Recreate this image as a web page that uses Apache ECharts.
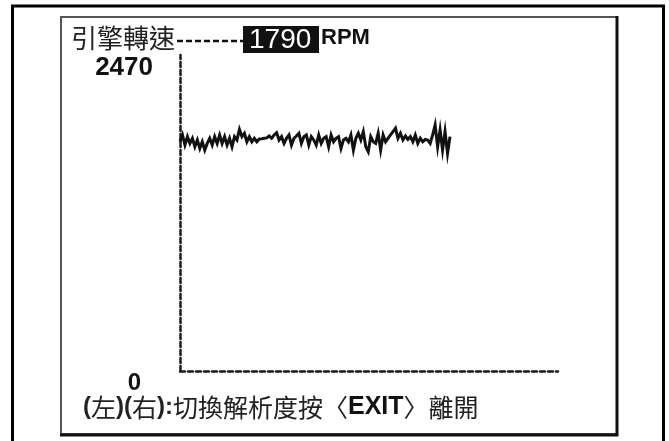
<!DOCTYPE html>
<html>
<head>
<meta charset="utf-8">
<title>引擎轉速</title>
<script src="https://cdn.jsdelivr.net/npm/echarts@6.0.0/dist/echarts.min.js"></script>
<style>
  html, body { margin: 0; padding: 0; background: #fff; }
  #chart { width: 669px; height: 441px; }
</style>
</head>
<body>
<div id="chart"></div>
<script>
// data
const yMin = 0
const yMax = 2470
const currentRpm = 1790
const yTickLabels = [0, 2470]
const rpmSamples = [
  1792, 1845, 1766, 1832, 1779, 1819, 1753, 1806, 1740, 1792,
  1727, 1779, 1819, 1766, 1832, 1779, 1845, 1779, 1832, 1766,
  1819, 1753, 1832, 1806, 1889, 1832, 1858, 1792, 1832, 1792,
  1819, 1792, 1814, 1816, 1819, 1822, 1837, 1819, 1845, 1863,
  1806, 1832, 1779, 1819, 1845, 1766, 1819, 1837, 1858, 1779,
  1832, 1845, 1766, 1832, 1806, 1766, 1845, 1779, 1819, 1832,
  1753, 1845, 1792, 1819, 1832, 1740, 1806, 1819, 1792, 1845,
  1727, 1819, 1858, 1806, 1871, 1753, 1714, 1832, 1792, 1779,
  1858, 1727, 1845, 1792, 1819, 1845, 1871, 1897, 1819, 1858,
  1806, 1837, 1811, 1832, 1792, 1845, 1779, 1819, 1792, 1811,
  1806, 1779, 1845, 1923, 1753, 1884, 1727, 1871, 1701, 1832
]
const headerLabel = '引擎轉速'
const unitLabel = 'RPM'

const cjk = '"Noto Sans CJK TC", "Noto Sans CJK SC", sans-serif'
const latin = '"Liberation Sans", Arial, sans-serif'

// the trace only fills the left ~70% of the time axis
const xMax = (rpmSamples.length - 1) * 1.4

const chart = echarts.init(document.getElementById('chart'), null, { renderer: 'canvas' })

const dashed = { color: '#1a1a1a', width: 2.5, type: [5, 3] }

const option = {
  animation: false,
  backgroundColor: '#fff',
  grid: { left: 180, right: 111, top: 55, bottom: 70 },
  xAxis: {
    type: 'value',
    min: 0,
    max: xMax,
    axisLine: { show: true, onZero: false, lineStyle: dashed },
    axisTick: { show: false },
    axisLabel: { show: false },
    splitLine: { show: false }
  },
  yAxis: {
    type: 'value',
    min: yMin,
    max: yMax,
    axisLine: { show: true, lineStyle: dashed },
    axisTick: { show: false },
    splitLine: { show: false },
    axisLabel: {
      customValues: yTickLabels,
      margin: 27,
      verticalAlign: 'top',
      formatter: v => (v === 0 ? '{z|' + v + '}' : '{m|' + v + '}'),
      rich: {
        m: { fontFamily: latin, fontWeight: 'bold', fontSize: 26, color: '#111' },
        z: { fontFamily: latin, fontWeight: 'bold', fontSize: 24, color: '#111', padding: [0, 12, 0, 0] }
      }
    }
  },
  graphic: [
    // outer black frame
    {
      type: 'rect', silent: true,
      shape: { x: 12.5, y: 6, width: 651, height: 470 },
      style: { fill: null, stroke: '#000', lineWidth: 3 }
    },
    // inner panel
    {
      type: 'rect', silent: true,
      shape: { x: 61, y: 17, width: 556, height: 417 },
      style: { fill: null, stroke: '#555', lineWidth: 2 }
    },
    {
      type: 'polyline', silent: true,
      shape: { points: [[617, 16], [617, 435], [60, 435]] },
      style: { fill: null, stroke: '#111', lineWidth: 3 }
    },
    // header
    {
      type: 'text', left: 71, top: 25,
      style: { text: headerLabel, font: '26px ' + cjk, fill: '#222' }
    },
    {
      type: 'line', silent: true,
      shape: { x1: 177, y1: 41, x2: 243, y2: 41 },
      style: { stroke: '#111', lineWidth: 2.5, lineDash: [6, 3] }
    },
    {
      type: 'rect', silent: true,
      shape: { x: 243, y: 26, width: 76, height: 27 },
      style: { fill: '#111' }
    },
    {
      type: 'text', left: 249, top: 26,
      style: { text: String(currentRpm), font: '28px ' + latin, fill: '#fff' }
    },
    {
      type: 'text', left: 321, top: 27,
      style: { text: unitLabel, font: 'bold 22px ' + latin, fill: '#111' }
    },
    // footer hint
    {
      type: 'text', left: 83, top: 395,
      style: {
        text: '{p|(}{c|左}{p|)(}{c|右}{p|):}{c|切換解析度按〈}{e|EXIT}{c|〉離開}',
        rich: {
          p: { fontFamily: latin, fontWeight: 'bold', fontSize: 24, fill: '#222' },
          c: { fontFamily: cjk, fontSize: 25, fill: '#222' },
          e: { fontFamily: latin, fontWeight: 'bold', fontSize: 25, fill: '#111' }
        }
      }
    }
  ],
  series: [
    {
      type: 'line',
      data: rpmSamples.map((v, i) => [i, v]),
      showSymbol: false,
      silent: true,
      lineStyle: { color: '#111', width: 3, join: 'miter' }
    }
  ]
}

chart.setOption(option)
</script>
</body>
</html>
